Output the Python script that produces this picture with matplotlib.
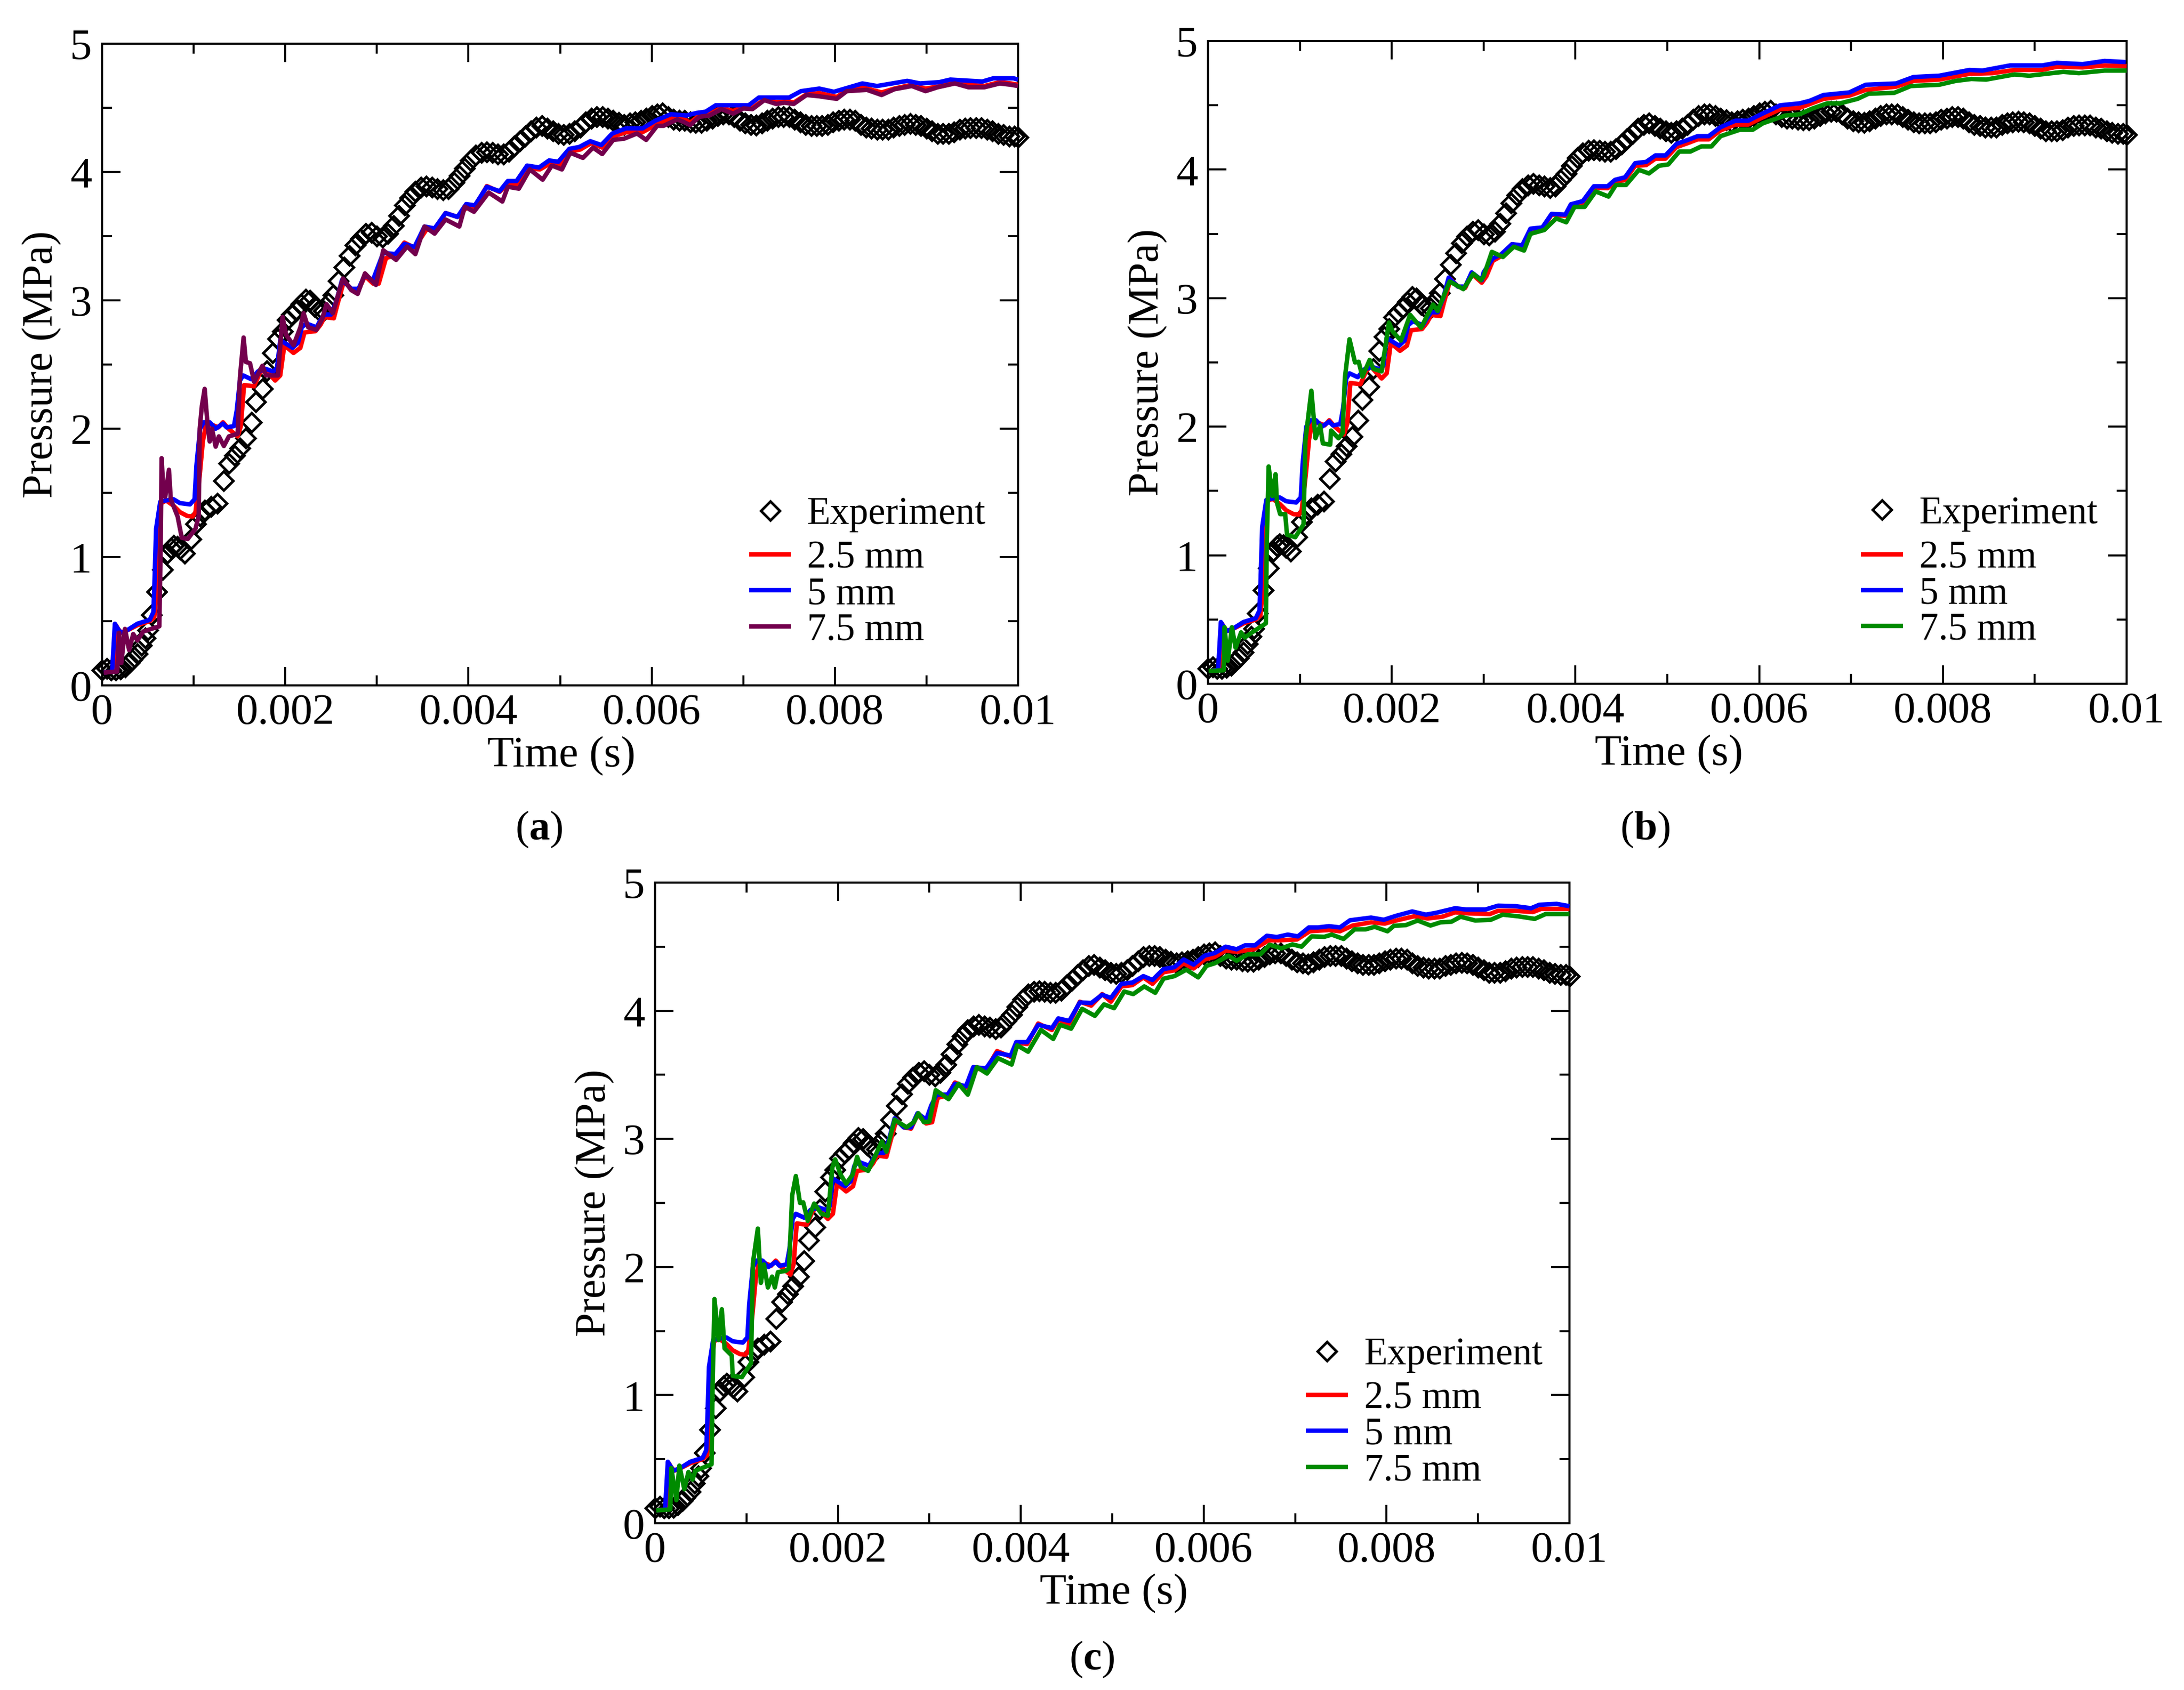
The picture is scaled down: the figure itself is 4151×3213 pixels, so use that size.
import matplotlib
matplotlib.use('Agg')
import matplotlib.pyplot as plt
from matplotlib.lines import Line2D

plt.rcParams['font.family'] = ['Liberation Serif', 'DejaVu Serif']
plt.rcParams['mathtext.fontset'] = 'custom'
plt.rcParams['mathtext.rm'] = 'Liberation Serif'
plt.rcParams['mathtext.bf'] = 'Liberation Serif:bold'

# all curves are (time in ms, pressure in MPa)
experiment = [
    (0, .12), (.05, .13), (.10, .12), (.15, .12), (.20, .125), (.25, .145), (.30, .175), (.33, .20), (.385, .245),
    (.43, .31), (.47, .37), (.50, .43), (.54, .55), (.60, .73), (.66, .90), (.71, 1.03), (.75, 1.07), (.78, 1.09),
    (.82, 1.08), (.85, 1.06), (.90, 1.03), (.97, 1.14), (1.02, 1.26), (1.07, 1.32), (1.12, 1.365), (1.19, 1.395),
    (1.26, 1.42), (1.325, 1.595), (1.385, 1.73), (1.45, 1.79), (1.505, 1.85), (1.57, 1.925), (1.63, 2.05),
    (1.68, 2.21), (1.75, 2.31), (1.80, 2.45), (1.86, 2.59), (1.92, 2.70), (1.97, 2.76), (2.02, 2.85), (2.07, 2.89),
    (2.12, 2.92), (2.17, 2.97), (2.22, 3.01), (2.27, 3.00), (2.32, 2.95), (2.37, 2.92), (2.42, 2.92), (2.47, 2.98),
    (2.52, 3.04), (2.58, 3.15), (2.64, 3.26), (2.70, 3.35), (2.76, 3.43), (2.82, 3.48), (2.88, 3.52), (2.94, 3.53),
    (3.00, 3.50), (3.06, 3.49), (3.12, 3.52), (3.18, 3.58), (3.24, 3.66), (3.30, 3.74), (3.36, 3.80), (3.42, 3.85),
    (3.48, 3.88), (3.54, 3.89), (3.60, 3.88), (3.66, 3.87), (3.72, 3.86), (3.78, 3.87), (3.84, 3.92), (3.90, 3.97),
    (3.96, 4.03), (4.02, 4.09), (4.08, 4.13), (4.14, 4.15), (4.20, 4.155), (4.26, 4.15), (4.32, 4.14), (4.38, 4.14),
    (4.44, 4.16), (4.50, 4.20), (4.56, 4.24), (4.62, 4.28), (4.68, 4.32), (4.74, 4.35), (4.80, 4.36), (4.86, 4.34),
    (4.92, 4.32), (4.98, 4.30), (5.04, 4.29), (5.10, 4.30), (5.16, 4.32), (5.22, 4.35), (5.28, 4.39), (5.34, 4.42),
    (5.40, 4.43), (5.46, 4.43), (5.52, 4.42), (5.58, 4.40), (5.64, 4.385), (5.70, 4.37), (5.76, 4.38), (5.82, 4.39),
    (5.88, 4.40), (5.94, 4.42), (6.00, 4.44), (6.06, 4.45), (6.12, 4.46), (6.18, 4.43), (6.24, 4.41), (6.30, 4.40),
    (6.36, 4.40), (6.42, 4.39), (6.48, 4.385), (6.54, 4.385), (6.60, 4.40), (6.66, 4.42), (6.72, 4.44), (6.78, 4.45),
    (6.84, 4.45), (6.90, 4.43), (6.96, 4.40), (7.02, 4.38), (7.08, 4.37), (7.14, 4.365), (7.20, 4.38), (7.26, 4.40),
    (7.32, 4.42), (7.38, 4.43), (7.44, 4.43), (7.50, 4.43), (7.56, 4.41), (7.62, 4.39), (7.68, 4.37), (7.74, 4.36),
    (7.80, 4.36), (7.86, 4.36), (7.92, 4.37), (7.98, 4.39), (8.04, 4.40), (8.10, 4.41), (8.16, 4.41), (8.22, 4.40),
    (8.28, 4.37), (8.34, 4.35), (8.40, 4.34), (8.46, 4.33), (8.52, 4.33), (8.58, 4.33), (8.64, 4.35), (8.70, 4.36),
    (8.76, 4.37), (8.82, 4.375), (8.88, 4.37), (8.94, 4.36), (9.00, 4.34), (9.06, 4.32), (9.12, 4.30), (9.18, 4.30),
    (9.24, 4.30), (9.30, 4.31), (9.36, 4.33), (9.42, 4.34), (9.48, 4.345), (9.54, 4.345), (9.60, 4.345), (9.66, 4.33),
    (9.72, 4.32), (9.78, 4.30), (9.84, 4.29), (9.90, 4.28), (9.96, 4.28), (10.0, 4.27),
]

# the start of the 2.5 mm and 5 mm runs looks the same in all three panels
red_early = [
    (.02, .10), (.12, .108), (.15, .47), (.175, .44), (.21, .41), (.28, .43), (.39, .47), (.52, .50), (.57, .53),
    (.60, .75), (.62, 1.22), (.645, 1.42), (.70, 1.44), (.78, 1.40), (.85, 1.35), (.93, 1.32), (.99, 1.316),
    (1.02, 1.35), (1.065, 1.63), (1.10, 1.90), (1.13, 2.02), (1.20, 2.03), (1.27, 2.01), (1.32, 2.05), (1.38, 2.0),
    (1.48, 1.94), (1.515, 2.02), (1.55, 2.34), (1.66, 2.33), (1.72, 2.43), (1.77, 2.47), (1.82, 2.43), (1.89, 2.375),
    (1.945, 2.415), (1.99, 2.65), (2.09, 2.59), (2.165, 2.63), (2.21, 2.75), (2.33, 2.76), (2.385, 2.81), (2.43, 2.87),
    (2.53, 2.86), (2.57, 2.97), (2.64, 3.15), (2.72, 3.09), (2.80, 3.08), (2.87, 3.19),
]
blue_early = [
    (.02, .10), (.11, .108), (.14, .48), (.165, .45), (.20, .41), (.275, .43), (.385, .48), (.52, .51), (.56, .57),
    (.57, .75), (.59, 1.22), (.635, 1.43), (.69, 1.44), (.78, 1.45), (.85, 1.42), (.96, 1.41), (1.01, 1.45),
    (1.03, 1.71), (1.07, 2.0), (1.11, 2.05), (1.175, 2.05), (1.24, 2.0), (1.32, 2.04), (1.36, 2.01), (1.44, 2.02),
    (1.47, 2.14), (1.505, 2.375), (1.54, 2.415), (1.63, 2.385), (1.70, 2.445), (1.79, 2.465), (1.87, 2.445),
    (1.91, 2.475), (1.945, 2.69), (1.99, 2.67), (2.08, 2.63), (2.14, 2.67), (2.18, 2.79), (2.23, 2.82), (2.34, 2.79),
    (2.38, 2.84), (2.43, 2.89), (2.50, 2.89), (2.56, 3.0), (2.62, 3.16), (2.72, 3.09), (2.80, 3.09), (2.87, 3.20),
]

a_red_late = [
    (2.96, 3.13), (3.02, 3.13), (3.10, 3.33), (3.20, 3.35), (3.30, 3.45), (3.41, 3.41), (3.54, 3.55), (3.63, 3.555),
    (3.75, 3.68), (3.88, 3.65), (3.99, 3.73), (4.07, 3.73), (4.20, 3.89), (4.34, 3.845), (4.43, 3.91), (4.54, 3.905),
    (4.66, 4.03), (4.78, 4.02), (4.90, 4.07), (5.0, 4.05), (5.11, 4.16), (5.22, 4.175), (5.34, 4.225), (5.46, 4.19),
    (5.59, 4.28), (5.72, 4.31), (5.90, 4.31), (6.05, 4.37), (6.22, 4.42), (6.36, 4.41), (6.42, 4.385), (6.52, 4.44),
    (6.63, 4.45), (6.76, 4.50), (6.89, 4.475), (7.0, 4.51), (7.10, 4.50), (7.23, 4.565), (7.36, 4.545), (7.50, 4.55),
    (7.55, 4.54), (7.69, 4.605), (7.83, 4.615), (8.02, 4.585), (8.13, 4.635), (8.30, 4.66), (8.51, 4.62), (8.65, 4.65),
    (8.84, 4.68), (8.99, 4.65), (9.12, 4.665), (9.31, 4.695), (9.46, 4.68), (9.63, 4.67), (9.80, 4.70), (9.92, 4.69),
    (10.0, 4.68),
]
a_blue_late = [
    (2.955, 3.155), (3.07, 3.37), (3.20, 3.36), (3.30, 3.44), (3.41, 3.415), (3.52, 3.575), (3.63, 3.56), (3.75, 3.68),
    (3.88, 3.65), (3.975, 3.75), (4.07, 3.74), (4.20, 3.885), (4.34, 3.85), (4.43, 3.93), (4.525, 3.93), (4.64, 4.05),
    (4.77, 4.035), (4.88, 4.09), (4.98, 4.08), (5.10, 4.18), (5.21, 4.195), (5.33, 4.24), (5.45, 4.21), (5.57, 4.30),
    (5.72, 4.34), (5.90, 4.34), (6.04, 4.40), (6.21, 4.45), (6.38, 4.44), (6.49, 4.46), (6.59, 4.47), (6.70, 4.52),
    (7.06, 4.52), (7.17, 4.58), (7.50, 4.58), (7.63, 4.63), (7.83, 4.65), (7.99, 4.625), (8.30, 4.69), (8.46, 4.67),
    (8.79, 4.71), (8.93, 4.69), (9.14, 4.70), (9.26, 4.72), (9.49, 4.71), (9.61, 4.705), (9.73, 4.73), (9.95, 4.73),
    (10.0, 4.72),
]
a_purple = [
    (.02, .10), (.165, .108), (.187, .41), (.21, .175), (.25, .44), (.295, .275), (.34, .40), (.385, .35), (.45, .42),
    (.625, .46), (.64, 1.10), (.65, 1.77), (.67, 1.51), (.69, 1.47), (.73, 1.68), (.75, 1.45), (.825, 1.315), (.87, 1.15),
    (.935, 1.14), (1.02, 1.22), (1.055, 1.32), (1.066, 2.0), (1.09, 2.18), (1.12, 2.31), (1.155, 2.0), (1.175, 1.90),
    (1.20, 2.0), (1.24, 1.86), (1.275, 1.94), (1.33, 1.865), (1.385, 1.94), (1.48, 1.96), (1.505, 2.40), (1.545, 2.71),
    (1.57, 2.52), (1.615, 2.51), (1.66, 2.365), (1.75, 2.49), (1.79, 2.415), (1.92, 2.415), (1.97, 2.87), (2.01, 2.73),
    (2.09, 2.65), (2.165, 2.79), (2.20, 2.90), (2.25, 2.79), (2.34, 2.77), (2.40, 2.85), (2.45, 2.97), (2.52, 2.90),
    (2.60, 3.10), (2.63, 3.17), (2.72, 3.08), (2.79, 3.05), (2.87, 3.21), (2.99, 3.12), (3.07, 3.39), (3.21, 3.315),
    (3.33, 3.42), (3.42, 3.36), (3.52, 3.575), (3.63, 3.52), (3.75, 3.63), (3.90, 3.575), (3.96, 3.73), (4.06, 3.69),
    (4.22, 3.84), (4.37, 3.77), (4.43, 3.885), (4.55, 3.87), (4.67, 4.02), (4.81, 3.94), (4.91, 4.05), (5.02, 4.02),
    (5.11, 4.15), (5.25, 4.11), (5.36, 4.19), (5.46, 4.14), (5.58, 4.25), (5.70, 4.26), (5.84, 4.30), (5.94, 4.25),
    (6.06, 4.36), (6.13, 4.36), (6.28, 4.41), (6.35, 4.39), (6.42, 4.365), (6.52, 4.43), (6.63, 4.44), (6.76, 4.49),
    (6.89, 4.455), (7.0, 4.495), (7.10, 4.49), (7.23, 4.56), (7.36, 4.53), (7.45, 4.54), (7.55, 4.53), (7.69, 4.60),
    (7.83, 4.59), (8.02, 4.57), (8.13, 4.63), (8.35, 4.64), (8.51, 4.60), (8.65, 4.645), (8.84, 4.67), (8.99, 4.63),
    (9.12, 4.66), (9.31, 4.69), (9.46, 4.66), (9.63, 4.66), (9.80, 4.69), (9.92, 4.68), (10.0, 4.67),
]

b_red_late = [
    (2.98, 3.12), (3.03, 3.17), (3.10, 3.29), (3.20, 3.33), (3.31, 3.42), (3.42, 3.40), (3.52, 3.52), (3.64, 3.54),
    (3.74, 3.65), (3.89, 3.64), (3.95, 3.71), (4.08, 3.74), (4.20, 3.86), (4.35, 3.855), (4.43, 3.90), (4.54, 3.92),
    (4.65, 4.03), (4.77, 4.035), (4.87, 4.085), (4.98, 4.085), (5.10, 4.175), (5.22, 4.205), (5.33, 4.235), (5.45, 4.235),
    (5.58, 4.305), (5.74, 4.35), (5.88, 4.35), (6.02, 4.40), (6.23, 4.47), (6.44, 4.48), (6.70, 4.55), (6.98, 4.575),
    (7.16, 4.62), (7.49, 4.645), (7.68, 4.69), (7.96, 4.70), (8.29, 4.745), (8.54, 4.75), (8.78, 4.775), (9.08, 4.775),
    (9.24, 4.80), (9.52, 4.795), (9.76, 4.81), (10.0, 4.805),
]
b_blue_late = [
    (2.98, 3.14), (3.0, 3.2), (3.10, 3.31), (3.19, 3.34), (3.31, 3.42), (3.42, 3.41), (3.51, 3.54), (3.64, 3.55),
    (3.74, 3.655), (3.89, 3.65), (3.95, 3.73), (4.08, 3.755), (4.20, 3.87), (4.35, 3.87), (4.43, 3.92), (4.54, 3.94),
    (4.65, 4.05), (4.77, 4.06), (4.87, 4.11), (4.98, 4.11), (5.10, 4.20), (5.22, 4.23), (5.33, 4.26), (5.45, 4.26),
    (5.58, 4.33), (5.74, 4.38), (5.88, 4.38), (6.02, 4.43), (6.23, 4.50), (6.44, 4.515), (6.55, 4.535), (6.70, 4.58),
    (6.98, 4.60), (7.16, 4.66), (7.49, 4.67), (7.68, 4.72), (7.96, 4.73), (8.29, 4.775), (8.43, 4.77), (8.73, 4.81),
    (9.08, 4.81), (9.24, 4.83), (9.52, 4.82), (9.76, 4.845), (9.99, 4.836),
]
b_green = [
    (.007, .10), (.17, .105), (.18, .44), (.215, .18), (.26, .44), (.30, .28), (.36, .40), (.40, .36), (.48, .40),
    (.63, .47), (.64, 1.105), (.66, 1.69), (.70, 1.46), (.735, 1.63), (.75, 1.41), (.785, 1.32), (.84, 1.32), (.86, 1.16),
    (.95, 1.14), (1.04, 1.24), (1.06, 1.89), (1.125, 2.28), (1.17, 1.91), (1.22, 2.01), (1.25, 1.87), (1.33, 1.86),
    (1.34, 1.97), (1.42, 1.91), (1.465, 1.95), (1.49, 2.38), (1.54, 2.68), (1.60, 2.50), (1.64, 2.505), (1.68, 2.39),
    (1.76, 2.52), (1.80, 2.45), (1.89, 2.43), (1.97, 2.81), (2.01, 2.74), (2.10, 2.67), (2.20, 2.87), (2.32, 2.77),
    (2.39, 2.87), (2.45, 2.95), (2.50, 2.90), (2.63, 3.13), (2.78, 3.07), (2.887, 3.19), (2.97, 3.14), (3.0, 3.17),
    (3.09, 3.36), (3.21, 3.32), (3.33, 3.40), (3.44, 3.37), (3.51, 3.50), (3.66, 3.53), (3.79, 3.62), (3.90, 3.59),
    (3.99, 3.71), (4.10, 3.71), (4.22, 3.83), (4.36, 3.79), (4.44, 3.88), (4.55, 3.88), (4.69, 3.998), (4.80, 3.97),
    (4.91, 4.03), (5.01, 4.04), (5.13, 4.14), (5.25, 4.14), (5.37, 4.18), (5.48, 4.18), (5.58, 4.26), (5.79, 4.31),
    (5.93, 4.31), (6.04, 4.36), (6.28, 4.42), (6.44, 4.43), (6.58, 4.475), (6.74, 4.515), (6.88, 4.515), (7.07, 4.55),
    (7.19, 4.59), (7.47, 4.597), (7.65, 4.65), (7.96, 4.66), (8.14, 4.69), (8.31, 4.705), (8.47, 4.70), (8.78, 4.74),
    (8.94, 4.73), (9.31, 4.76), (9.48, 4.75), (9.76, 4.77), (10.0, 4.77),
]

c_red_late = [
    (2.965, 3.12), (3.03, 3.13), (3.09, 3.32), (3.20, 3.34), (3.28, 3.44), (3.40, 3.40), (3.49, 3.55), (3.62, 3.54),
    (3.74, 3.685), (3.89, 3.64), (3.96, 3.75), (4.07, 3.74), (4.19, 3.90), (4.34, 3.85), (4.41, 3.93), (4.53, 3.90),
    (4.645, 4.07), (4.77, 4.04), (4.89, 4.13), (4.985, 4.07), (5.10, 4.19), (5.22, 4.20), (5.34, 4.26), (5.44, 4.21),
    (5.56, 4.30), (5.68, 4.315), (5.78, 4.37), (5.89, 4.33), (6.01, 4.40), (6.12, 4.42), (6.24, 4.47), (6.36, 4.46),
    (6.55, 4.48), (6.71, 4.55), (6.83, 4.55), (7.02, 4.556), (7.16, 4.62), (7.37, 4.63), (7.49, 4.62), (7.63, 4.665),
    (7.83, 4.69), (7.98, 4.68), (8.12, 4.707), (8.30, 4.737), (8.45, 4.72), (8.61, 4.734), (8.75, 4.768), (8.90, 4.76),
    (9.13, 4.755), (9.22, 4.78), (9.41, 4.78), (9.60, 4.77), (9.69, 4.795), (10.0, 4.795),
]
c_blue_late = [
    (2.965, 3.15), (3.02, 3.26), (3.08, 3.345), (3.20, 3.345), (3.28, 3.43), (3.40, 3.41), (3.48, 3.56), (3.62, 3.55),
    (3.74, 3.67), (3.89, 3.65), (3.95, 3.755), (4.07, 3.755), (4.19, 3.89), (4.34, 3.865), (4.41, 3.94), (4.53, 3.92),
    (4.645, 4.065), (4.77, 4.06), (4.89, 4.125), (4.985, 4.10), (5.10, 4.21), (5.22, 4.22), (5.34, 4.27), (5.44, 4.24),
    (5.56, 4.325), (5.68, 4.34), (5.78, 4.40), (5.89, 4.36), (6.01, 4.43), (6.12, 4.45), (6.24, 4.50), (6.36, 4.48),
    (6.45, 4.51), (6.56, 4.51), (6.69, 4.585), (6.80, 4.575), (6.92, 4.594), (7.03, 4.58), (7.15, 4.65), (7.25, 4.65),
    (7.37, 4.66), (7.49, 4.65), (7.60, 4.706), (7.83, 4.727), (7.97, 4.71), (8.10, 4.74), (8.28, 4.775), (8.43, 4.75),
    (8.54, 4.764), (8.75, 4.80), (8.87, 4.79), (9.08, 4.79), (9.22, 4.82), (9.41, 4.816), (9.58, 4.80), (9.67, 4.827),
    (9.86, 4.834), (10.0, 4.816),
]
c_green = [
    (.013, .10), (.167, .108), (.178, .43), (.233, .18), (.266, .45), (.32, .265), (.365, .40), (.41, .34), (.44, .41),
    (.618, .46), (.63, 1.09), (.65, 1.75), (.695, 1.43), (.73, 1.67), (.76, 1.365), (.838, 1.31), (.85, 1.15), (.95, 1.14),
    (1.05, 1.25), (1.07, 2.03), (1.124, 2.30), (1.157, 1.876), (1.19, 2.02), (1.234, 1.84), (1.28, 1.925), (1.31, 1.84),
    (1.344, 1.96), (1.43, 1.97), (1.465, 1.99), (1.50, 2.56), (1.54, 2.71), (1.585, 2.50), (1.62, 2.505), (1.67, 2.36),
    (1.74, 2.495), (1.82, 2.415), (1.89, 2.40), (1.94, 2.78), (1.97, 2.84), (2.03, 2.72), (2.09, 2.65), (2.16, 2.72),
    (2.21, 2.86), (2.25, 2.78), (2.33, 2.75), (2.39, 2.84), (2.48, 2.98), (2.53, 2.90), (2.62, 3.15), (2.75, 3.09),
    (2.83, 3.13), (2.88, 3.20), (2.94, 3.13), (3.0, 3.135), (3.07, 3.38), (3.21, 3.31), (3.32, 3.43), (3.42, 3.345),
    (3.52, 3.56), (3.63, 3.51), (3.75, 3.63), (3.90, 3.58), (3.96, 3.73), (4.08, 3.68), (4.22, 3.85), (4.355, 3.78),
    (4.43, 3.89), (4.55, 3.86), (4.67, 4.015), (4.81, 3.96), (4.91, 4.05), (5.02, 4.02), (5.13, 4.15), (5.23, 4.13),
    (5.35, 4.19), (5.47, 4.14), (5.56, 4.25), (5.68, 4.27), (5.81, 4.32), (5.94, 4.26), (6.03, 4.35), (6.12, 4.37),
    (6.27, 4.43), (6.36, 4.39), (6.48, 4.44), (6.62, 4.44), (6.72, 4.515), (6.85, 4.487), (6.97, 4.518), (7.07, 4.50),
    (7.18, 4.58), (7.32, 4.577), (7.40, 4.594), (7.53, 4.56), (7.65, 4.635), (7.77, 4.635), (7.87, 4.655), (8.01, 4.62),
    (8.08, 4.663), (8.21, 4.668), (8.34, 4.704), (8.48, 4.665), (8.59, 4.69), (8.71, 4.695), (8.81, 4.734), (8.97, 4.704),
    (9.14, 4.71), (9.27, 4.75), (9.44, 4.737), (9.62, 4.717), (9.74, 4.755), (10.0, 4.755),
]

x_ticks = [0, 0.002, 0.004, 0.006, 0.008, 0.01]
x_tick_labels = ['0', '0.002', '0.004', '0.006', '0.008', '0.01']
x_minor = [0.001, 0.003, 0.005, 0.007, 0.009]
y_ticks = [0, 1, 2, 3, 4, 5]
y_minor = [0.5, 1.5, 2.5, 3.5, 4.5]

RED = '#ff0000'
BLUE = '#0000ff'
PURPLE = '#73004d'
GREEN = '#008b00'
W, H = 4151, 3213
LW = 6.1
FS = 60
LEG_FS = 52.5

panels = [
    # label, left, right, top, bottom (pixels), last curve and colour, caption x, y, legend x, legend y shift
    ('a', 194, 1935, 83, 1303, a_red_late, a_blue_late, a_purple, PURPLE, 1024, 1577, 0.7065, 0),
    ('b', 2296, 4042, 78, 1300, b_red_late, b_blue_late, b_green, GREEN, 3127, 1577, 0.711, -0.002),
    ('c', 1245, 2983, 1678, 2896, c_red_late, c_blue_late, c_green, GREEN, 2075, 3155, 0.712, -0.004),
]

fig = plt.figure(figsize=(W / 100, H / 100), dpi=100, facecolor='white')

for name, left, right, top, bottom, red_late, blue_late, last, last_color, cap_x, cap_y, leg_x, leg_dy in panels:
    ax = fig.add_axes([left / W, 1 - bottom / H, (right - left) / W, (bottom - top) / H])

    et, ep = zip(*experiment)
    ax.plot([t / 1000 for t in et], ep, ls='none', marker='D', ms=18.3, mew=3.6, mfc='none', mec='black',
            clip_on=False, zorder=2)
    curves = [(red_early + red_late, RED, '2.5 mm'), (blue_early + blue_late, BLUE, '5 mm'), (last, last_color, '7.5 mm')]
    line_handles = []
    for i, (curve, color, label) in enumerate(curves):
        ts, ps = zip(*curve)
        ln, = ax.plot([t / 1000 for t in ts], ps, color=color, lw=LW, label=label, solid_capstyle='butt',
                      clip_on=False, zorder=3 + i)
        line_handles.append(ln)

    ax.set_xlim(0, 0.01)
    ax.set_ylim(0, 5)
    ax.set_xticks(x_ticks)
    ax.set_xticklabels(x_tick_labels)
    ax.set_xticks(x_minor, minor=True)
    ax.set_yticks(y_ticks)
    ax.set_yticks(y_minor, minor=True)
    ax.tick_params(which='major', direction='in', length=25, width=2.7, top=True, right=True, labelsize=FS)
    ax.tick_params(which='minor', direction='in', length=13.5, width=2.7, top=True, right=True)
    ax.tick_params(axis='x', which='major', pad=11)
    ax.tick_params(axis='y', which='major', pad=14)
    for spine in ax.spines.values():
        spine.set_linewidth(2.9)

    ax.set_xlabel('Time (s)', fontsize=60)
    ax.xaxis.set_label_coords(0.5015, -0.079)
    ax.set_ylabel('Pressure (MPa)', fontsize=59)
    ax.yaxis.set_label_coords(-0.044, 0.5)

    leg_top = ax.legend(handles=[Line2D([], [], ls='none', marker='D', ms=18.3, mew=3.6, mfc='none', mec='black')],
                        labels=['Experiment'], loc='lower left', bbox_to_anchor=(leg_x, 0.2385 + leg_dy), frameon=False,
                        borderpad=0, borderaxespad=0, handlelength=1.09, handletextpad=0.42, fontsize=LEG_FS, numpoints=1)
    ax.add_artist(leg_top)
    ax.legend(handles=line_handles, loc='lower left', bbox_to_anchor=(leg_x, 0.058 + leg_dy), frameon=False, borderpad=0,
              borderaxespad=0, handlelength=1.09, handletextpad=0.42, labelspacing=0.01, fontsize=LEG_FS)

    fig.text(cap_x / W, 1 - cap_y / H, '($\\mathbf{%s}$)' % name, fontsize=57, ha='center', va='center')

fig.savefig('out.png', dpi=100, facecolor='white')
